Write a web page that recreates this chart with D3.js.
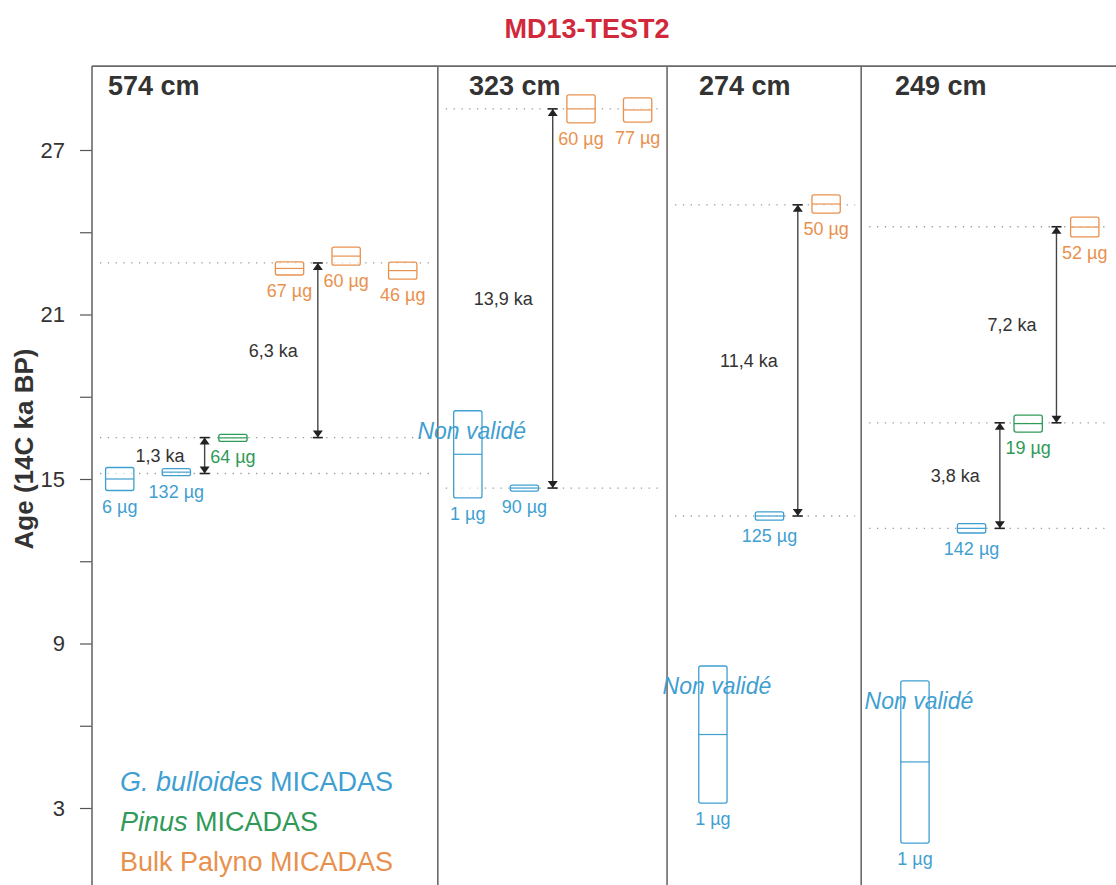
<!DOCTYPE html>
<html><head><meta charset="utf-8">
<script src="https://cdn.jsdelivr.net/npm/d3@7"></script>
<style>html,body{margin:0;padding:0;background:#fff}svg{display:block;font-family:"Liberation Sans",Arial,Helvetica,sans-serif}</style>
</head><body>
<svg id="chart" width="1116" height="885"></svg>
<script>
// ---------- DATA ----------
const title = "MD13-TEST2";
const panelNames = ["574 cm", "323 cm", "274 cm", "249 cm"];
const seriesKeys = ["bull", "pinus", "bulk"];
const yTicks = [3, 9, 15, 21, 27];
const yMinorTicks = [6, 12, 18, 24];

// samples (one entry per measured box)
const samplePanel = [0,0,0,0,0,0, 1,1,1,1, 2,2,2, 3,3,3,3];
const sampleSlot  = [0,1,2,3,4,5, 0,1,2,3, 0,1,2, 0,1,2,3];
const sampleSeries = ["bull","bull","pinus","bulk","bulk","bulk",
                      "bull","bull","bulk","bulk",
                      "bull","bull","bulk",
                      "bull","bull","pinus","bulk"];
const sampleAge = [15.0, 15.25, 16.5, 22.68, 23.13, 22.6,
                   15.9, 14.67, 28.5, 28.46,
                   5.68, 13.65, 25.03,
                   4.68, 13.2, 17.02, 24.19];
const sampleErr = [0.42, 0.13, 0.13, 0.24, 0.33, 0.31,
                   1.59, 0.11, 0.51, 0.44,
                   2.5, 0.15, 0.33,
                   2.96, 0.17, 0.31, 0.36];
const sampleMass = ["6 µg","132 µg","64 µg","67 µg","60 µg","46 µg",
                    "1 µg","90 µg","60 µg","77 µg",
                    "1 µg","125 µg","50 µg",
                    "1 µg","142 µg","19 µg","52 µg"];
const sampleValid = [true,true,true,true,true,true,
                     false,true,true,true,
                     false,true,true,
                     false,true,true,true];

// reference (dotted) age lines
const refPanel = [0,0,0, 1,1, 2,2, 3,3,3];
const refAge   = [22.88,16.51,15.2, 28.5,14.67, 25.0,13.65, 24.2,17.05,13.2];

// age offsets (double arrows)
const arrowPanel = [0,0,1,2,3,3];
const arrowSlot  = [1.5,3.5,1.5,1.5,1.5,2.5];
const arrowFrom  = [15.2,16.51,14.67,13.65,13.2,17.05];
const arrowTo    = [16.51,22.88,28.5,25.0,17.05,24.2];
const arrowLabel = ["1,3 ka","6,3 ka","13,9 ka","11,4 ka","3,8 ka","7,2 ka"];

const legendLabels = [["G. bulloides"," MICADAS"],["Pinus"," MICADAS"],["","Bulk Palyno MICADAS"]];

// ---------- LAYOUT ----------
const colors = {bull:"#3f9fd1", pinus:"#2f9a57", bulk:"#e8914e"};
const panelBounds = [0, 6.11, 10.16, 13.59, 18.1]; // x units
const panelFirstSlot = [0.49, 6.64, 10.97, 14.54];
const panelLabelX = [108, 469, 699, 895];
const boxW = 0.5;

const svg = d3.select("#chart");
const x = d3.scaleLinear().domain([0, 18]).range([92, 92 + 18*56.6]);
const y = d3.scaleLinear().domain([3, 27]).range([808, 150]);
const frameTop = y(30.06), frameBottom = 885;
const xs = (p, s) => x(panelFirstSlot[p] + s);

// title
svg.append("text").attr("x", 587).attr("y", 38).attr("text-anchor","middle")
  .attr("font-size", 27).attr("font-weight","bold").attr("fill","#d2283c").text(title);

// y axis
const yAxis = d3.axisLeft(y).tickValues(yTicks).tickSize(12).tickPadding(15).tickFormat(d3.format("d"));
const ga = svg.append("g").attr("transform","translate(92,0)").call(yAxis);
ga.select(".domain").remove();
ga.selectAll(".tick line").attr("stroke","#555").attr("stroke-width",1.2);
ga.selectAll(".tick text").attr("font-size",22).attr("fill","#333").attr("font-family","Liberation Sans, Arial, sans-serif");
const gm = svg.append("g").attr("transform","translate(92,0)")
  .call(d3.axisLeft(y).tickValues(yMinorTicks).tickSize(12).tickFormat(""));
gm.select(".domain").remove();
gm.selectAll(".tick line").attr("stroke","#555").attr("stroke-width",1.2);

svg.append("text").attr("transform","translate(33,449) rotate(-90)").attr("text-anchor","middle")
  .attr("font-size",26).attr("font-weight","bold").attr("fill","#333").text("Age (14C ka BP)");

// reference dotted lines
refAge.forEach((a,i) => {
  const p = refPanel[i];
  svg.append("line")
    .attr("x1", x(panelBounds[p]) + 8).attr("x2", Math.min(x(panelBounds[p+1]) - 6, 1116))
    .attr("y1", y(a)).attr("y2", y(a))
    .attr("stroke","#9a9a9a").attr("stroke-width",1.3).attr("stroke-dasharray","1.3 6.5");
});

// frame
const frame = svg.append("g").attr("stroke","#6a6a6a").attr("stroke-width",1.6).attr("fill","none");
frame.append("line").attr("x1",x(0)).attr("x2",1116).attr("y1",frameTop).attr("y2",frameTop);
panelBounds.slice(0,4).forEach(b => {
  frame.append("line").attr("x1",x(b)).attr("x2",x(b)).attr("y1",frameTop).attr("y2",frameBottom);
});

// panel labels
panelNames.forEach((n,p) => {
  svg.append("text").attr("x", panelLabelX[p]).attr("y", 95)
    .attr("font-size",27).attr("font-weight","bold").attr("fill","#333").text(n);
});

// sample boxes
sampleAge.forEach((a,i) => {
  const p = samplePanel[i], c = colors[sampleSeries[i]];
  const cx = xs(p, sampleSlot[i]);
  const x0 = x(panelFirstSlot[p] + sampleSlot[i] - boxW/2), x1 = x(panelFirstSlot[p] + sampleSlot[i] + boxW/2);
  const yt = y(a + sampleErr[i]), yb = y(a - sampleErr[i]);
  const g = svg.append("g");
  g.append("rect").attr("x",x0).attr("y",yt).attr("width",x1-x0).attr("height",yb-yt)
    .attr("rx",2).attr("fill","#fff").attr("fill-opacity",0.6).attr("stroke",c).attr("stroke-width",1.3);
  g.append("line").attr("x1",x0).attr("x2",x1).attr("y1",y(a)).attr("y2",y(a))
    .attr("stroke",c).attr("stroke-width",1.2);
  g.append("text").attr("x",cx).attr("y",yb + 22).attr("text-anchor","middle")
    .attr("font-size",18).attr("fill",c).text(sampleMass[i]);
  if (!sampleValid[i]) {
    g.append("text").attr("x",cx + 4).attr("y",yt + 28).attr("text-anchor","middle")
      .attr("font-size",23).attr("font-style","italic").attr("fill",c).text("Non validé");
  }
});

// double arrows
arrowFrom.forEach((f,i) => {
  const p = arrowPanel[i];
  const ax = x(panelFirstSlot[p] + arrowSlot[i]);
  const y1 = y(f), y2 = y(arrowTo[i]);
  const g = svg.append("g");
  g.append("line").attr("x1",ax).attr("x2",ax).attr("y1",y1).attr("y2",y2)
    .attr("stroke","#444").attr("stroke-width",1.4);
  const hw = 5, hh = 7;
  [[y1, -1],[y2, 1]].forEach(([ty, dir]) => {
    g.append("path").attr("d", `M${ax},${ty} L${ax-hw},${ty+dir*hh} L${ax+hw},${ty+dir*hh} Z`).attr("fill","#222");
    g.append("line").attr("x1",ax-hw).attr("x2",ax+hw).attr("y1",ty).attr("y2",ty)
      .attr("stroke","#222").attr("stroke-width",1.6);
  });
  g.append("text").attr("x",ax - 20).attr("y",(y1+y2)/2).attr("dy","0.35em")
    .attr("text-anchor","end").attr("font-size",18).attr("fill","#333").text(arrowLabel[i]);
});

// legend
legendLabels.forEach((l,i) => {
  const t = svg.append("text").attr("x",120).attr("y",791 + i*40).attr("font-size",27)
    .attr("fill", colors[seriesKeys[i]]);
  if (l[0]) t.append("tspan").attr("font-style","italic").text(l[0]);
  t.append("tspan").text(l[1]);
});
</script>
</body></html>
